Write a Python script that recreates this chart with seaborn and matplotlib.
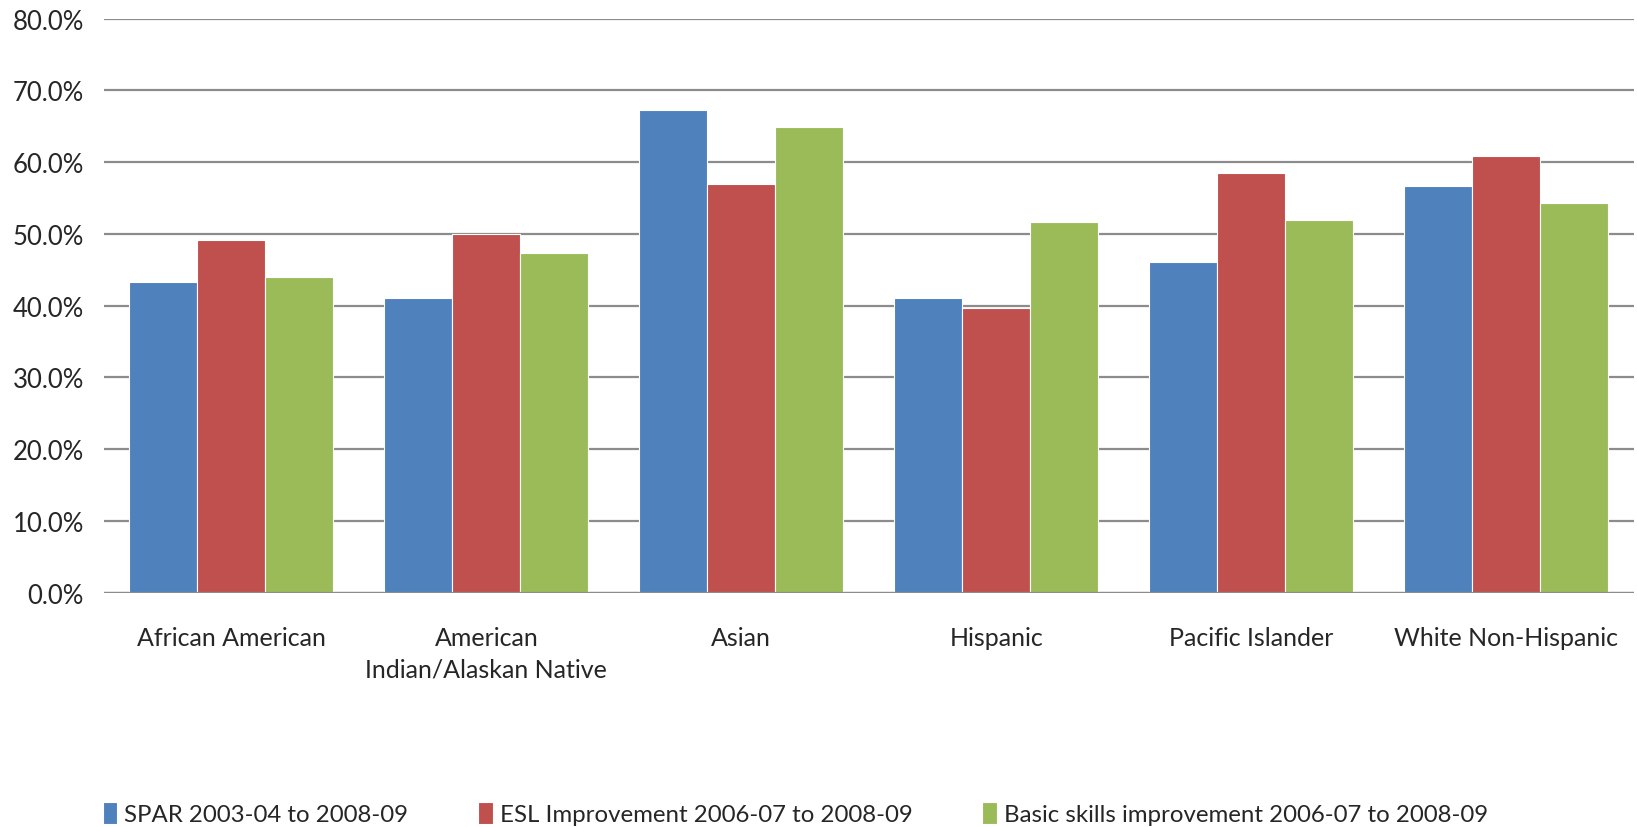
import matplotlib.pyplot as plt
import seaborn as sns
import pandas as pd
from matplotlib.ticker import PercentFormatter

# datos del grafico
grupos = ["African American", "American\nIndian/Alaskan Native", "Asian",
          "Hispanic", "Pacific Islander", "White Non-Hispanic"]
series = ["SPAR 2003-04 to 2008-09",
          "ESL Improvement 2006-07 to 2008-09",
          "Basic skills improvement 2006-07 to 2008-09"]
spar = [43.3, 41.1, 67.2, 41.1, 46.0, 56.6]
esl = [49.2, 50.0, 56.9, 39.7, 58.5, 60.8]
basic = [44.0, 47.3, 64.9, 51.6, 51.9, 54.3]
colores = ["#4F81BD", "#C0504D", "#9BBB59"]

df = pd.DataFrame({
    "grupo": grupos * 3,
    "serie": [series[0]] * 6 + [series[1]] * 6 + [series[2]] * 6,
    "valor": spar + esl + basic,
})

sns.set_style("white")
plt.rcParams["font.family"] = ["Lato", "DejaVu Sans"]

fig = plt.figure(figsize=(16.37, 8.28), dpi=100)
ax = fig.add_axes([0.0635, 0.2832, 0.9345, 0.6932])

sns.barplot(data=df, x="grupo", y="valor", hue="serie", palette=colores,
            saturation=1, width=0.8, edgecolor="white", linewidth=0.8,
            ax=ax, zorder=3)

ax.set_ylim(0, 80)
ax.set_yticks(range(0, 81, 10))
ax.yaxis.set_major_formatter(PercentFormatter(decimals=1))
ax.grid(axis="y", color="#8c8c8c", linewidth=1.6, zorder=0)
ax.set_axisbelow(True)
for s in ["top", "right", "left", "bottom"]:
    ax.spines[s].set_visible(False)
ax.axhline(0, color="#8c8c8c", linewidth=1.6, zorder=4)
ax.set_xlim(-0.5, 5.5)
ax.set_xlabel("")
ax.set_ylabel("")
ax.tick_params(axis="y", labelsize=18.5, pad=14.5, length=0)
ax.tick_params(axis="x", labelsize=18, pad=24, length=0)
for lbl in ax.get_xticklabels():
    lbl.set_linespacing(1.45)

ax.legend(loc="center", bbox_to_anchor=(0.452, -0.385), ncol=3, frameon=False,
          fontsize=17.3, handlelength=0.6, handleheight=1.0, handletextpad=0.3,
          columnspacing=2.9)

plt.savefig("out.png", dpi=100)
plt.close()
